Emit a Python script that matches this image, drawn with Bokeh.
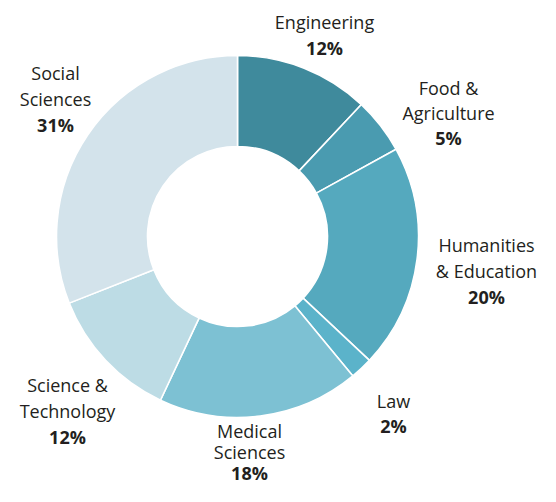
import numpy as np
from bokeh.plotting import figure
from bokeh.models import Range1d, ColumnDataSource
from bokeh.core.properties import value
from bokeh.embed import file_html
from bokeh.resources import INLINE

# ---- data ----
categories = ["Engineering", "Food & Agriculture", "Humanities & Education", "Law",
              "Medical Sciences", "Science & Technology", "Social Sciences"]
label_lines = [["Engineering"], ["Food &", "Agriculture"], ["Humanities", "& Education"], ["Law"],
               ["Medical", "Sciences"], ["Science &", "Technology"], ["Social", "Sciences"]]
shares = [12, 5, 20, 2, 18, 12, 31]
colors = ["#3f8a9c", "#4a9bb0", "#55a9be", "#5bb3ca", "#7dc1d3", "#bddce5", "#d3e3eb"]

# ---- layout (picture pixels) ----
CX, CY = 237, 236          # donut centre
R_OUT, R_IN = 181, 90
label_pos = [(324, 21, 26), (448, 87, 25), (486, 244, 26), (393, 400, 25),
             (249, 430, 21), (67, 384, 26), (55, 72, 26)]

vals = np.array(shares, dtype=float)
frac = vals / vals.sum()
cum = np.concatenate([[0], np.cumsum(frac)])
start = np.pi / 2 - 2 * np.pi * cum[:-1]
end = np.pi / 2 - 2 * np.pi * cum[1:]

W, H = 540, 486
p = figure(width=W, height=H, output_backend="svg", toolbar_location=None,
           x_range=Range1d(-CX, W - CX), y_range=Range1d(CY - H, CY),
           min_border=0, outline_line_color=None)
p.axis.visible = False
p.grid.visible = False
p.background_fill_color = "white"
p.border_fill_color = "white"

src = ColumnDataSource(dict(start=start, end=end, color=colors, cat=categories))
p.annular_wedge(x=0, y=0, inner_radius=R_IN, outer_radius=R_OUT,
                start_angle="start", end_angle="end", direction="clock",
                fill_color="color", line_color="white", line_width=1.6, source=src)

nx, ny, nt = [], [], []
bx, by, bt = [], [], []
for (lx, ly, lh), lines, s in zip(label_pos, label_lines, shares):
    for k, t in enumerate(lines):
        nx.append(lx - CX); ny.append(CY - (ly + k * lh)); nt.append(t)
    bx.append(lx - CX); by.append(CY - (ly + len(lines) * lh)); bt.append(f"{s}%")

FONT = value("Open Sans")
p.text(x=nx, y=ny, text=nt, text_font=FONT, text_font_size="18px",
       text_align="center", text_baseline="middle", text_color="#231f20")
p.text(x=bx, y=by, text=bt, text_font=FONT, text_font_size="18px", text_font_style="bold",
       text_align="center", text_baseline="middle", text_color="#231f20")

open("out.html", "w").write(file_html(p, INLINE))
